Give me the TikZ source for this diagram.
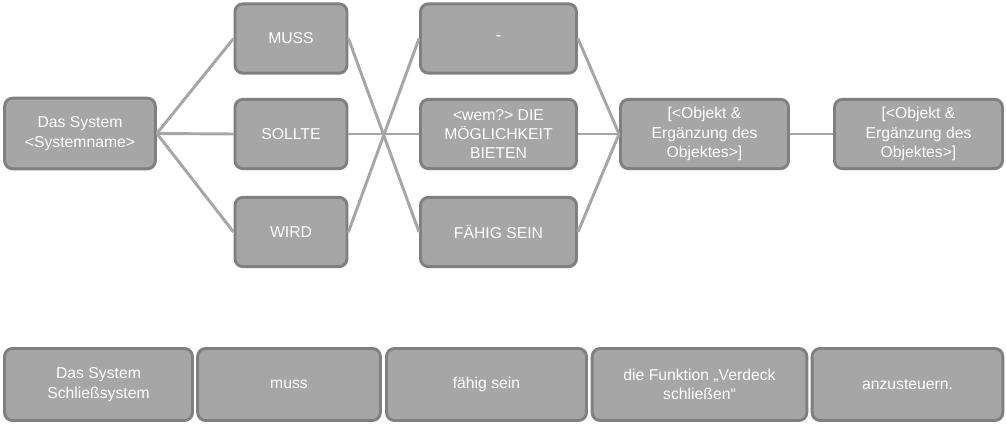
\documentclass[tikz,border=0pt]{standalone}
\usepackage{fontspec}
\setmainfont{Liberation Sans}
\definecolor{boxfill}{HTML}{A6A6A6}
\definecolor{boxline}{HTML}{808080}
\definecolor{linkgray}{HTML}{A6A6A6}
\tikzset{
  stbox/.style={draw=boxline,fill=boxfill,line width=2.2pt,rounded corners=6pt,
    text=white,align=center,inner sep=2pt,font=\fontsize{11.8}{14.5}\selectfont},
  link/.style={draw=linkgray,line width=2.2pt}
}
\begin{document}
\begin{tikzpicture}[x=0.75pt,y=-0.75pt]
  \useasboundingbox (0,0) rectangle (1006,424);
  \node[stbox,minimum width=113pt,minimum height=53pt] (sys) at (80,133.5) {Das System\\\textless Systemname\textgreater};
  \node[stbox,minimum width=84pt,minimum height=52pt] (muss) at (291,38.5) {MUSS};
  \node[stbox,minimum width=84pt,minimum height=52pt] (sollte) at (291,134) {SOLLTE};
  \node[stbox,minimum width=84pt,minimum height=52pt] (wird) at (291,232) {WIRD};
  \node[stbox,minimum width=117pt,minimum height=52pt] (leer) at (498.5,38.5) {-};
  \node[stbox,minimum width=117pt,minimum height=52pt] (wem) at (498.5,134) {\textless wem?\textgreater{} DIE\\MÖGLICHKEIT\\BIETEN};
  \node[stbox,minimum width=117pt,minimum height=52pt] (faehig) at (498.5,232) {FÄHIG SEIN};
  \node[stbox,minimum width=126pt,minimum height=52pt] (obj) at (704.5,134) {[\textless Objekt \&\\Ergänzung des\\Objektes\textgreater]};
  \node[stbox,minimum width=126pt,minimum height=52pt] (objb) at (918.5,134) {[\textless Objekt \&\\Ergänzung des\\Objektes\textgreater]};
  % links
  \foreach \m in {muss,sollte,wird}
    \draw[link] (sys.east) -- (\m.west);
  \draw[link] (muss.east) -- (faehig.west);
  \draw[link] (sollte.east) -- (wem.west);
  \draw[link] (wird.east) -- (leer.west);
  \foreach \m in {leer,wem,faehig}
    \draw[link] (\m.east) -- (obj.west);
  \draw[link] (obj.east) -- (objb.west);
  % example sentence
  \node[stbox,minimum width=141pt,minimum height=54pt] (bsys) at (98.5,384.5) {Das System\\Schließsystem};
  \node[stbox,minimum width=137pt,minimum height=54pt] (bmuss) at (289,384.5) {muss};
  \node[stbox,minimum width=150pt,minimum height=54pt] (bfaehig) at (486.5,384.5) {fähig sein};
  \node[stbox,minimum width=161pt,minimum height=54pt] (bfkt) at (699.5,384.5) {die Funktion „Verdeck\\schließen“};
  \node[stbox,minimum width=143pt,minimum height=54pt] (bsteuer) at (907.5,384.5) {anzusteuern.};
\end{tikzpicture}
\end{document}
